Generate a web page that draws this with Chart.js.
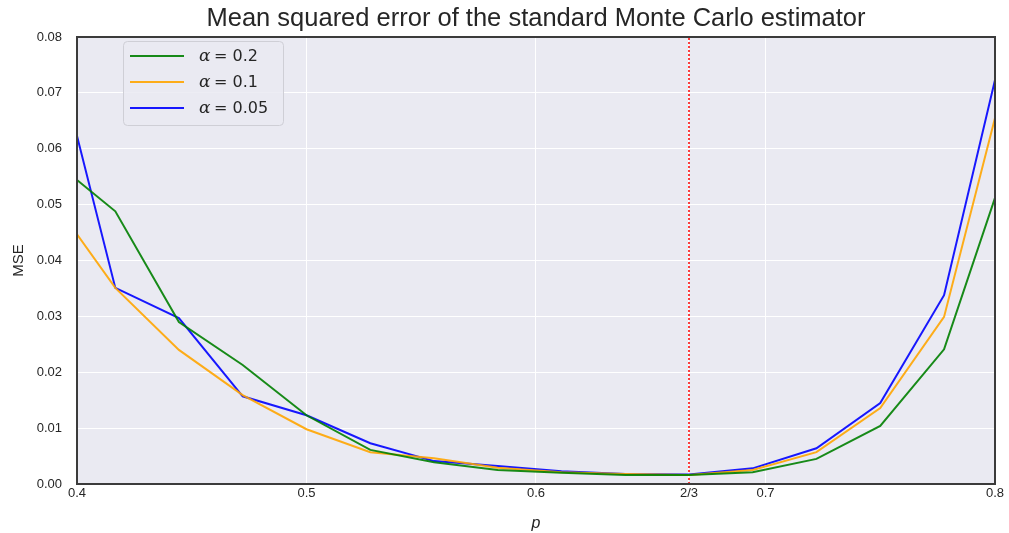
<!DOCTYPE html>
<html>
<head>
<meta charset="utf-8">
<script src="https://cdn.jsdelivr.net/npm/chart.js@4"></script>
<style>
  html, body { margin: 0; padding: 0; background: #fff; }
  #wrap { width: 1009px; height: 533px; }
</style>
</head>
<body>
<div id="wrap"><canvas id="myChart" width="1009" height="533"></canvas></div>
<script>
// p grid (0.4, 15/36 ... 28/36, 0.8)
const pValues = [0.4, 0.4167, 0.4444, 0.4722, 0.5, 0.5278, 0.5556, 0.5833,
  0.6111, 0.6389, 0.6667, 0.6944, 0.7222, 0.75, 0.7778, 0.8]

const mseAlpha20 = [0.0544, 0.0488, 0.0290, 0.0213, 0.0123, 0.0061, 0.0039, 0.0025,
  0.0020, 0.0016, 0.0016, 0.0021, 0.0045, 0.0104, 0.0241, 0.0512]
const mseAlpha10 = [0.0447, 0.0351, 0.0240, 0.0159, 0.0098, 0.0057, 0.0046, 0.0029,
  0.0021, 0.0018, 0.0016, 0.0025, 0.0057, 0.0136, 0.0299, 0.0655]
const mseAlpha05 = [0.0623, 0.0351, 0.0297, 0.0157, 0.0123, 0.0073, 0.0041, 0.0032,
  0.0023, 0.0018, 0.0017, 0.0028, 0.0064, 0.0145, 0.0338, 0.0723]

const seriesLabels = ['0.2', '0.1', '0.05']
const xTicks = [0.4, 0.5, 0.6, 2 / 3, 0.7, 0.8]
const xTickLabels = ['0.4', '0.5', '0.6', '2/3', '0.7', '0.8']
const pStar = 2 / 3

const textColor = '#262626'
const fontFamily = '"Liberation Sans", Arial, sans-serif'

const toPoints = (ys) => ys.map((y, i) => ({ x: pValues[i], y }))

// background, frame and in-plot legend
const plotDecor = {
  id: 'plotDecor',
  beforeDraw (chart) {
    const { ctx, chartArea: a } = chart
    ctx.save()
    ctx.fillStyle = '#EAEAF2'
    ctx.fillRect(a.left, a.top, a.right - a.left, a.bottom - a.top)
    ctx.restore()
  },
  afterDraw (chart) {
    const { ctx, chartArea: a } = chart
    ctx.save()
    ctx.strokeStyle = '#3b3b3b'
    ctx.lineWidth = 2
    ctx.strokeRect(a.left, a.top, a.right - a.left, a.bottom - a.top)

    // legend box
    const bx = a.left + 46
    const by = a.top + 4
    const bw = 160
    const bh = 84
    ctx.fillStyle = 'rgba(234,234,242,0.85)'
    ctx.strokeStyle = '#cfcfd6'
    ctx.lineWidth = 1
    ctx.beginPath()
    ctx.roundRect(bx + 0.5, by + 0.5, bw, bh, 4)
    ctx.fill()
    ctx.stroke()

    chart.data.datasets.slice(0, 3).forEach((ds, i) => {
      const y = by + 15 + i * 26
      ctx.strokeStyle = ds.borderColor
      ctx.lineWidth = 2
      ctx.beginPath()
      ctx.moveTo(bx + 7, y)
      ctx.lineTo(bx + 61, y)
      ctx.stroke()
      ctx.fillStyle = textColor
      ctx.textBaseline = 'middle'
      ctx.font = 'italic 17px "DejaVu Serif", serif'
      ctx.fillText('α', bx + 76, y + 1)
      ctx.font = '16px "DejaVu Sans", sans-serif'
      ctx.fillText('= ' + seriesLabels[i], bx + 91, y + 1)
    })
    ctx.restore()
  }
}

const ctx = document.getElementById('myChart')
// eslint-disable-next-line no-unused-vars
const myChart = new Chart(ctx, {
  type: 'line',
  data: {
    datasets: [{
      label: 'α = 0.2',
      data: toPoints(mseAlpha20),
      borderColor: 'rgba(0,128,0,0.9)',
      borderWidth: 2
    }, {
      label: 'α = 0.1',
      data: toPoints(mseAlpha10),
      borderColor: 'rgba(255,165,0,0.9)',
      borderWidth: 2
    }, {
      label: 'α = 0.05',
      data: toPoints(mseAlpha05),
      borderColor: 'rgba(0,0,255,0.9)',
      borderWidth: 2
    }, {
      label: 'p*',
      data: [{ x: pStar, y: 0 }, { x: pStar, y: 0.08 }],
      borderColor: '#ff0000',
      borderWidth: 1.5,
      borderDash: [2, 2]
    }]
  },
  options: {
    responsive: false,
    animation: false,
    layout: { padding: { left: 0, right: 14, top: 0, bottom: 0 } },
    elements: {
      point: { radius: 0 },
      line: { tension: 0, fill: false }
    },
    scales: {
      x: {
        type: 'linear',
        min: 0.4,
        max: 0.8,
        afterBuildTicks: (scale) => { scale.ticks = xTicks.map(v => ({ value: v })) },
        afterFit: (scale) => { scale.height = 49 },
        border: { display: false },
        grid: { color: '#ffffff', lineWidth: 1, drawTicks: false },
        ticks: {
          color: textColor,
          padding: 2,
          maxRotation: 0,
          autoSkip: false,
          font: { family: fontFamily, size: 13 },
          callback: (v, i) => xTickLabels[i]
        },
        title: {
          display: true,
          text: 'p',
          color: textColor,
          padding: { top: 0, bottom: 0 },
          font: { family: fontFamily, size: 16, style: 'italic' }
        }
      },
      y: {
        min: 0,
        max: 0.08,
        afterFit: (scale) => { scale.width = 77 },
        border: { display: false },
        grid: { color: '#ffffff', lineWidth: 1, drawTicks: false },
        ticks: {
          stepSize: 0.01,
          color: textColor,
          padding: 15,
          font: { family: fontFamily, size: 13 },
          callback: (v) => v.toFixed(2)
        },
        title: {
          display: true,
          text: 'MSE',
          color: textColor,
          padding: { top: 10, bottom: 0 },
          font: { family: fontFamily, size: 15 }
        }
      }
    },
    plugins: {
      legend: { display: false },
      tooltip: { enabled: false },
      title: {
        display: true,
        fullSize: false,
        text: 'Mean squared error of the standard Monte Carlo estimator',
        color: textColor,
        font: { family: fontFamily, size: 25.5, weight: 'normal', lineHeight: 1.2 },
        padding: { top: 4, bottom: 2.4 }
      }
    }
  },
  plugins: [plotDecor]
})
</script>
</body>
</html>
